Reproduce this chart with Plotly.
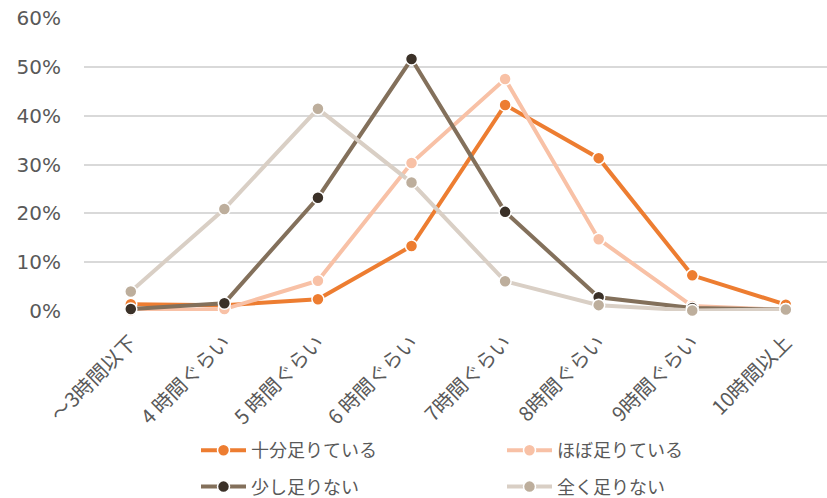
import plotly.graph_objects as go

categories = ["～3時間以下", "4 時間ぐらい", "5 時間ぐらい", "6 時間ぐらい", "7時間ぐらい", "8時間ぐらい", "9時間ぐらい", "10時間以上"]
juubun = [1.4, 1.2, 2.4, 13.3, 42.2, 31.3, 7.3, 1.3]
hobo = [0.1, 0.4, 6.2, 30.3, 47.5, 14.7, 1.0, 0.2]
sukoshi = [0.4, 1.6, 23.2, 51.6, 20.3, 2.8, 0.6, 0.3]
mattaku = [4.0, 20.9, 41.4, 26.3, 6.1, 1.2, 0.1, 0.3]
y_ticks = [0, 10, 20, 30, 40, 50, 60]
y_tick_labels = ["0%", "10%", "20%", "30%", "40%", "50%", "60%"]

series = [
    ("十分足りている", juubun, "#ED7D31", "#ED7D31", "legend"),
    ("ほぼ足りている", hobo, "#F8C1A6", "#F8C1A6", "legend2"),
    ("少し足りない", sukoshi, "#83705B", "#3B3128", "legend"),
    ("全く足りない", mattaku, "#D9CFC5", "#BDAE9C", "legend2"),
]

fig = go.Figure()
for name, vals, lc, mc, lg in series:
    fig.add_trace(go.Scatter(
        x=categories, y=vals, name=name, mode="lines+markers",
        line=dict(color=lc, width=4),
        marker=dict(color=mc, size=12, line=dict(color="white", width=1.5)),
        legend=lg, legendgroup=name, cliponaxis=False,
    ))

font_family = "Noto Sans CJK JP, Noto Sans, sans-serif"
legend_common = dict(
    orientation="v", xref="container", yref="container", yanchor="top", xanchor="left",
    font=dict(size=18, color="#595959", family=font_family),
    bgcolor="rgba(0,0,0,0)", tracegroupgap=10, itemwidth=45,
)
fig.update_layout(
    width=827, height=498,
    margin=dict(l=84, r=0, t=18, b=187, autoexpand=False),
    plot_bgcolor="white", paper_bgcolor="white",
    font=dict(family=font_family, color="#595959"),
    showlegend=True,
    legend=dict(x=196 / 827, y=1 - 432 / 498, **legend_common),
    legend2=dict(x=502 / 827, y=1 - 432 / 498, **legend_common),
    xaxis=dict(
        range=[-0.5, 7.44], tickangle=-45, showgrid=False, showline=False,
        tickfont=dict(size=20, color="#595959", family=font_family), ticks="",
        automargin=False, ticklabelstandoff=15,
    ),
    yaxis=dict(
        range=[0, 60], tickmode="array", tickvals=y_ticks, ticktext=y_tick_labels,
        gridcolor="#D9D9D9", gridwidth=1.5, zeroline=False, showline=False,
        tickfont=dict(size=20, color="#595959", family="DejaVu Sans, sans-serif"),
        ticklabelstandoff=22, automargin=False,
    ),
)
fig.write_html("out.html")
